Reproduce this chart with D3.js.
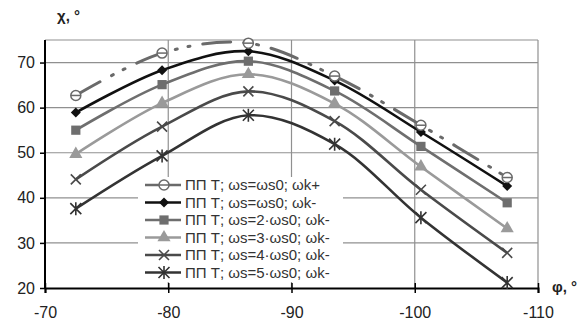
<!DOCTYPE html>
<html>
<head>
<meta charset="utf-8">
<script src="https://cdn.jsdelivr.net/npm/d3@7"></script>
<style>
  body { margin: 0; background: #fff; }
  text { font-family: "Liberation Sans", Arial, sans-serif; }
</style>
</head>
<body>
<div id="chart"></div>
<script>
// data
const phi = [-72.5, -79.5, -86.5, -93.5, -100.5, -107.5];
const s1 = [62.7, 72.1, 74.3, 67.0, 56.1, 44.5];
const s2 = [58.9, 68.3, 72.5, 66.0, 54.6, 42.6];
const s3 = [55.0, 65.1, 70.3, 63.7, 51.4, 38.9];
const s4 = [49.7, 61.0, 67.4, 60.9, 46.9, 33.2];
const s5 = [44.1, 55.8, 63.6, 57.0, 41.8, 27.8];
const s6 = [37.6, 49.3, 58.3, 51.9, 35.6, 21.2];
const labels = [
  'ПП Т; ωs=ωs0; ωk+',
  'ПП Т; ωs=ωs0; ωk-',
  'ПП Т; ωs=2·ωs0; ωk-',
  'ПП Т; ωs=3·ωs0; ωk-',
  'ПП Т; ωs=4·ωs0; ωk-',
  'ПП Т; ωs=5·ωs0; ωk-'
];
const xTicks = [-70, -80, -90, -100, -110];
const yTicks = [20, 30, 40, 50, 60, 70];

const w = 581, h = 327;

const series = [
  { vals: s1, color: '#6a6a6a', marker: 'circle', dash: '28,13,2,11,2,13' },
  { vals: s2, color: '#111', marker: 'diamond' },
  { vals: s3, color: '#6e6e6e', marker: 'square' },
  { vals: s4, color: '#9a9a9a', marker: 'triangle' },
  { vals: s5, color: '#4a4a4a', marker: 'x' },
  { vals: s6, color: '#333', marker: 'star' }
];

const svg = d3.select('#chart').append('svg')
  .attr('width', w).attr('height', h)
  .style('background-color', '#fff');

const xScale = d3.scaleLinear().domain([-70, -110]).range([45, 538]);
const yScale = d3.scaleLinear().domain([20, 75]).range([288, 40]);

// grid
svg.append('g').selectAll('line')
  .data(yTicks.slice(1).concat([75]))
  .enter().append('line')
  .attr('x1', xScale(-70)).attr('x2', xScale(-110))
  .attr('y1', d => yScale(d)).attr('y2', d => yScale(d))
  .attr('stroke', '#909090').attr('stroke-width', 1.2);
svg.append('g').selectAll('line')
  .data(xTicks.slice(1))
  .enter().append('line')
  .attr('x1', d => xScale(d)).attr('x2', d => xScale(d))
  .attr('y1', yScale(20)).attr('y2', yScale(75))
  .attr('stroke', '#909090').attr('stroke-width', 1.2);

// legend background hides the grid
svg.append('rect')
  .attr('x', 138).attr('y', 177).attr('width', 205).attr('height', 105)
  .attr('fill', '#fff');

// axes
const x_axis = d3.axisBottom(xScale).tickValues(xTicks).tickSize(5).tickPadding(14)
  .tickFormat(d => String(d));
const gx = svg.append('g')
  .attr('transform', 'translate(0,' + yScale(20) + ')')
  .call(x_axis);
gx.select('.domain').attr('stroke', '#000').attr('stroke-width', 2);
gx.selectAll('.tick line').attr('y1', -5).attr('stroke', '#000').attr('stroke-width', 1.5);
gx.selectAll('text').style('font-size', '16px').attr('fill', '#222');

const y_axis = d3.axisLeft(yScale).tickValues(yTicks).tickSize(5).tickPadding(5);
const gy = svg.append('g')
  .attr('transform', 'translate(' + xScale(-70) + ',0)')
  .call(y_axis);
gy.select('.domain').attr('d', 'M0,' + yScale(20) + 'V' + yScale(75))
  .attr('stroke', '#000').attr('stroke-width', 2);
gy.selectAll('.tick line').attr('stroke', '#000').attr('stroke-width', 1.5);
gy.selectAll('text').style('font-size', '16px').attr('fill', '#222');

// axis titles
svg.append('text').attr('x', 57).attr('y', 21)
  .style('font-size', '15px').style('font-weight', 'bold').attr('fill', '#222')
  .text('χ, °');
svg.append('text').attr('x', 552).attr('y', 292)
  .style('font-size', '15px').style('font-weight', 'bold').attr('fill', '#222')
  .text('φ, °');

// marker shapes
function marker(g, type, color) {
  if (type === 'circle') {
    g.append('circle').attr('r', 5).attr('fill', '#fff')
      .attr('stroke', color).attr('stroke-width', 1.5);
    g.append('line').attr('x1', -5).attr('x2', 5).attr('stroke', color).attr('stroke-width', 1.5);
  } else if (type === 'diamond') {
    g.append('path').attr('d', d3.symbol().type(d3.symbolSquare).size(50))
      .attr('transform', 'rotate(45)').attr('fill', color);
  } else if (type === 'square') {
    g.append('path').attr('d', d3.symbol().type(d3.symbolSquare).size(85)).attr('fill', color);
  } else if (type === 'triangle') {
    g.append('path').attr('d', d3.symbol().type(d3.symbolTriangle).size(75)).attr('fill', color);
  } else if (type === 'x') {
    g.append('path').attr('d', 'M-5,-5L5,5M-5,5L5,-5')
      .attr('stroke', color).attr('stroke-width', 1.6).attr('fill', 'none');
  } else if (type === 'star') {
    g.append('path').attr('d', 'M-5.5,-5.5L5.5,5.5M-5.5,5.5L5.5,-5.5M0,-6.5V6.5')
      .attr('stroke', color).attr('stroke-width', 1.6).attr('fill', 'none');
  }
}

const line = d3.line()
  .x((d, i) => xScale(phi[i]))
  .y(d => yScale(d))
  .curve(d3.curveCatmullRom.alpha(0.5));

// draw from back to front
series.slice().reverse().forEach(s => {
  svg.append('path')
    .attr('d', line(s.vals))
    .attr('fill', 'none')
    .attr('stroke', s.color)
    .attr('stroke-width', s.dash ? 3 : 2.6)
    .attr('stroke-dasharray', s.dash || null)
    .attr('stroke-linecap', s.dash ? 'round' : 'butt');
  s.vals.forEach((v, i) => {
    const g = svg.append('g')
      .attr('transform', 'translate(' + xScale(phi[i]) + ',' + yScale(v) + ')');
    marker(g, s.marker, s.color);
  });
});

// legend
const legend = svg.append('g');
series.forEach((s, i) => {
  const y = 185 + i * 17.5;
  legend.append('line')
    .attr('x1', 145).attr('x2', 181).attr('y1', y).attr('y2', y)
    .attr('stroke', s.color).attr('stroke-width', 2.6);
  const g = legend.append('g').attr('transform', 'translate(164,' + y + ')');
  marker(g, s.marker, s.color);
  legend.append('text')
    .attr('x', 185).attr('y', y + 5)
    .style('font-size', '15px').attr('fill', '#333')
    .text(labels[i]);
});
</script>
</body>
</html>
